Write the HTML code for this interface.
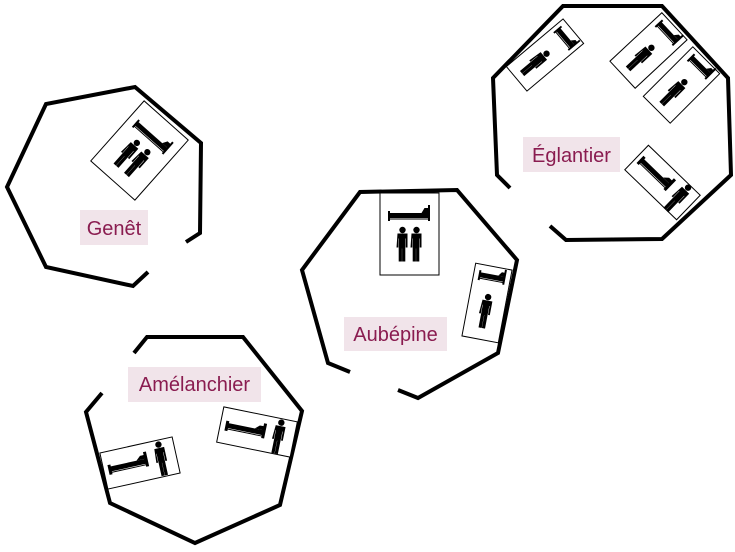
<!DOCTYPE html>
<html><head><meta charset="utf-8"><style>
html,body{margin:0;padding:0;background:#fff;}
svg{display:block;}
.lbl{font-family:"Liberation Sans",sans-serif;font-size:20px;fill:#8a1c50;}
</style></head><body>
<svg width="735" height="552" viewBox="0 0 735 552" xmlns="http://www.w3.org/2000/svg">
<defs>
<g id="person">
<circle cx="0" cy="-4" r="3.2" fill="#000"/>
<path d="M-5,-0.5 h10 v14 h-1.8 v-9 h-0.4 v23 h-3.2 v-13 h-0.2 v13 h-3.2 v-23 h-0.4 v9 h-1.8 z" fill="#000"/>
</g>
<g id="bedA">
<rect x="-21" y="-18" width="41" height="5" fill="#000"/>
<rect x="-21" y="-12.5" width="41" height="1" fill="#000"/>
<rect x="-21.5" y="-20" width="2" height="10" fill="#000"/>
<path d="M12,-18 L15,-23 L18.5,-23 L18.5,-26 L20.5,-26 L20.5,-10 L18.5,-10 L18.5,-18 Z" fill="#000"/>
</g>
<g id="bedS">
<rect x="-13" y="-18" width="26" height="5" fill="#000"/>
<rect x="-13" y="-12.5" width="26" height="1" fill="#000"/>
<rect x="-13.5" y="-20" width="2" height="10" fill="#000"/>
<path d="M6,-18 L9,-22 L11.5,-22 L11.5,-25 L13.5,-25 L13.5,-10 L11.5,-10 L11.5,-18 Z" fill="#000"/>
</g>
<g id="dbl">
<rect x="-29.5" y="-41" width="59" height="82" fill="#fff" stroke="#000" stroke-width="1"/>
<use href="#bedA" transform="translate(0,-3)"/>
<use href="#person" transform="translate(-7,0)"/>
<use href="#person" transform="translate(7,0)"/>
</g>
</defs>
<g fill="none" stroke="#000" stroke-width="4" stroke-linejoin="miter">
<polyline points="148,272 133,286 46,267 7,187 46,104 135,87 201,143 200,233 186,242"/>
<polyline points="510,188 497,175 493,78 563,6 662,6 728,78 731,175 662,239 566,240 550,226"/>
<polyline points="350,372 328,363 302,270 360,192 457,190 517,260 498,353 418,398 398,390"/>
<polyline points="134,353 147,337 243,337 302,411 280,505 195,543 110,503 86,412 102,393"/>
</g>
<use href="#dbl" transform="translate(409.5,234)"/>
<use href="#dbl" transform="translate(139.5,150.5) rotate(41.6) scale(1,0.98)"/>
<g transform="translate(487,303) rotate(10.7)">
<rect x="-18.5" y="-37" width="37" height="74" fill="#fff" stroke="#000"/>
<use href="#bedS" transform="translate(0,-11)"/><use href="#person" transform="translate(0,-2)"/>
</g>
<g transform="translate(545,55) rotate(50)">
<rect x="-16" y="-37" width="32" height="74" fill="#fff" stroke="#000"/>
<use href="#bedS" transform="translate(0,-11) scale(0.9,1)"/><use href="#person" transform="translate(0,2)"/>
</g>
<g transform="translate(648.5,50.5) rotate(47)">
<rect x="-18.5" y="-35.5" width="37" height="71" fill="#fff" stroke="#000"/>
<use href="#bedS" transform="translate(0,-11)"/><use href="#person" transform="translate(0,0)"/>
</g>
<g transform="translate(681.5,85) rotate(45)">
<rect x="-19" y="-35" width="38" height="70" fill="#fff" stroke="#000"/>
<use href="#bedS" transform="translate(0,-11)"/><use href="#person" transform="translate(0,0)"/>
</g>
<g transform="translate(662.5,182.5) rotate(44)">
<rect x="-36" y="-17" width="72" height="34" fill="#fff" stroke="#000"/>
<use href="#bedS" transform="translate(-12,14) scale(1.5,1)"/><use href="#person" transform="translate(22,-10)"/>
</g>
<g transform="translate(140,463) rotate(-12.5)">
<rect x="-37" y="-18.5" width="74" height="37" fill="#fff" stroke="#000"/>
<use href="#bedS" transform="translate(-12,15) scale(1.5,1)"/><use href="#person" transform="translate(22,-10)"/>
</g>
<g transform="translate(257,432) rotate(11.5)">
<rect x="-37.5" y="-18" width="75" height="36" fill="#fff" stroke="#000"/>
<use href="#bedS" transform="translate(-12,15) scale(1.5,1)"/><use href="#person" transform="translate(22,-10)"/>
</g>
<rect x="80" y="210" width="68" height="35" fill="#f1e4ea"/>
<text class="lbl" x="114" y="235" text-anchor="middle">Genêt</text>
<rect x="523" y="137" width="97" height="35" fill="#f1e4ea"/>
<text class="lbl" x="571.5" y="162" text-anchor="middle">Églantier</text>
<rect x="344" y="317" width="103" height="34" fill="#f1e4ea"/>
<text class="lbl" x="395.5" y="341" text-anchor="middle">Aubépine</text>
<rect x="128" y="367" width="133" height="35" fill="#f1e4ea"/>
<text class="lbl" x="194.5" y="391" text-anchor="middle">Amélanchier</text>
</svg>
</body></html>
